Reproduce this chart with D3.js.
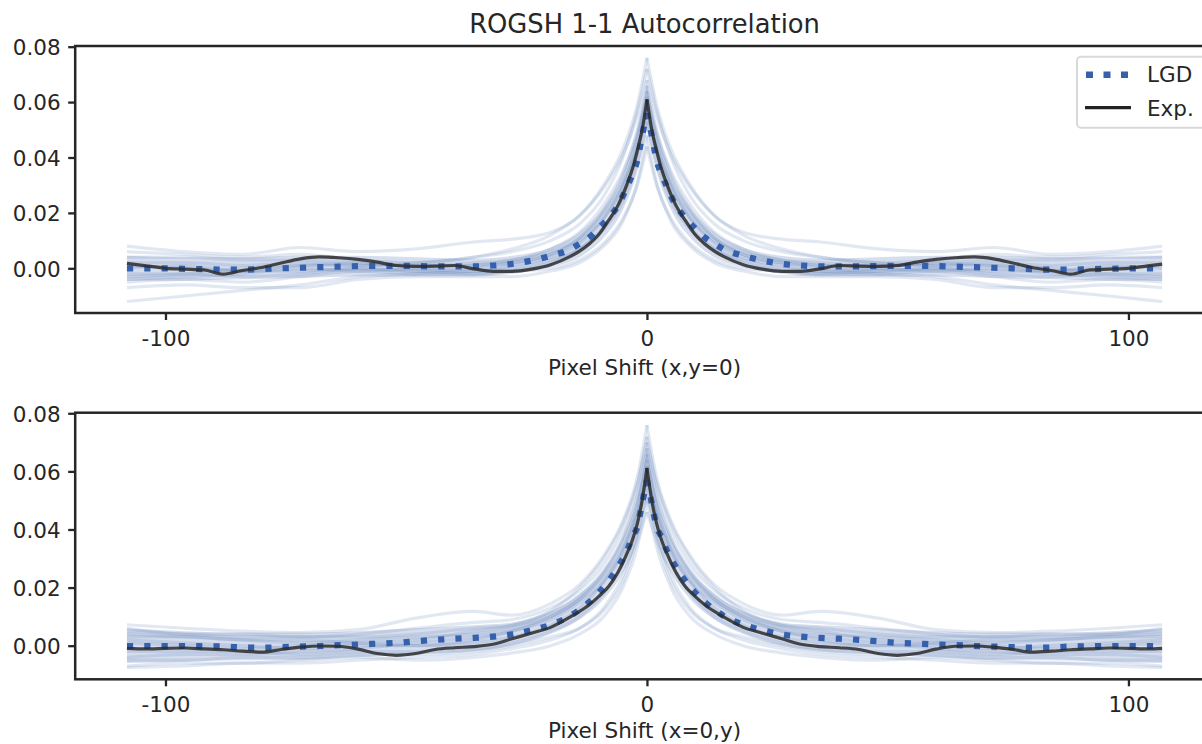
<!DOCTYPE html>
<html>
<head>
<meta charset="utf-8">
<script src="https://cdn.jsdelivr.net/npm/d3@7"></script>
<style>
  html, body { margin: 0; padding: 0; background: #fff; }
  svg { display: block; font-family: "DejaVu Sans", sans-serif; }
</style>
</head>
<body>
<svg id="chart" width="1202" height="744"></svg>
<script>
// ---- shift grids (pixels) ----
const shiftFine = [-108,-104,-100,-96,-92,-88,-84,-80,-76,-72,-68,-64,-60,-56,-52,-48,-44,-40,-36,-32,-28,-24,-20,
  -16,-14,-12,-10,-8,-6,-4,-3,-2,-1,0,1,2,3,4,6,8,10,12,14,16,
  20,24,28,32,36,40,44,48,52,56,60,64,68,72,76,80,84,88,92,96,100,104,107];
const shiftCoarse = [-108,-96,-84,-72,-60,-48,-36,-28,-20,-14,-9,-5,-2,0,2,5,9,14,20,28,36,48,60,72,84,96,107];

const yTicks = [0, 0.02, 0.04, 0.06, 0.08];
const xTicks = [-100, 0, 100];
const seriesNames = ["LGD", "Exp."];

// ---- shift along x (y = 0) ----
const lgdX = [0.0000,0.0000,0.0000,-0.0002,-0.0003,-0.0005,-0.0005,-0.0003,0.0000,0.0002,0.0004,0.0006,0.0008,0.0009,0.0009,0.0008,0.0007,0.0007,0.0007,0.0010,0.0016,0.0028,0.0045,
  0.0068,0.0089,0.0111,0.0144,0.0182,0.0227,0.030,0.034,0.039,0.048,0.056,0.048,0.039,0.034,0.030,0.0227,0.0182,0.0144,0.0111,0.0089,0.0068,
  0.0045,0.0028,0.0016,0.0010,0.0007,0.0007,0.0007,0.0008,0.0009,0.0009,0.0008,0.0006,0.0004,0.0002,0.0000,-0.0003,-0.0005,-0.0005,-0.0003,-0.0002,0.0000,0.0000,0.0000];
const expX = [0.0018,0.0009,0.0000,-0.0003,-0.0006,-0.0021,-0.0008,0.0003,0.0019,0.0034,0.0041,0.0038,0.0032,0.0022,0.0010,0.0007,0.0008,0.0010,-0.0002,-0.0011,-0.0011,-0.0003,0.0013,
  0.0042,0.0062,0.0088,0.0122,0.0172,0.0228,0.031,0.036,0.0425,0.050,0.0610,0.050,0.0425,0.036,0.031,0.0228,0.0172,0.0122,0.0088,0.0062,0.0042,
  0.0013,-0.0003,-0.0011,-0.0011,-0.0002,0.0010,0.0008,0.0007,0.0010,0.0022,0.0032,0.0038,0.0041,0.0034,0.0019,0.0003,-0.0008,-0.0021,-0.0006,-0.0003,0.0000,0.0009,0.0015];
const bandXHi = [0.0045,0.004,0.004,0.0045,0.0045,0.004,0.0035,0.0045,0.0075,0.013,0.022,0.034,0.050,0.066,0.050,0.034,0.022,0.013,0.0075,0.0045,0.0035,0.004,0.0045,0.0045,0.004,0.004,0.0045];
const bandXLo = [-0.0045,-0.0045,-0.004,-0.0035,-0.003,-0.003,-0.003,-0.002,0.0005,0.004,0.011,0.021,0.035,0.050,0.035,0.021,0.011,0.004,0.0005,-0.002,-0.003,-0.003,-0.003,-0.0035,-0.004,-0.0045,-0.0045];
const samplesX = [
  [0.008,0.006,0.005,0.0075,0.006,0.007,0.0095,0.0105,0.013,0.019,0.030,0.043,0.059,0.076,0.059,0.043,0.030,0.019,0.013,0.0105,0.0095,0.007,0.006,0.0075,0.005,0.006,0.008],
  [0.006,0.005,0.004,0.005,0.003,0.002,0.004,0.006,0.010,0.016,0.026,0.040,0.057,0.072,0.057,0.040,0.026,0.016,0.010,0.006,0.004,0.002,0.003,0.005,0.004,0.005,0.006],
  [0.004,0.004,0.003,0.003,0.002,0.001,0.001,0.002,0.005,0.011,0.021,0.034,0.050,0.066,0.050,0.034,0.021,0.011,0.005,0.002,0.001,0.001,0.002,0.003,0.003,0.004,0.004],
  [-0.003,-0.002,0.000,0.001,0.002,0.000,-0.001,0.001,0.004,0.009,0.018,0.030,0.046,0.062,0.046,0.030,0.018,0.009,0.004,0.001,-0.001,0.000,0.002,0.001,0.000,-0.002,-0.003],
  [-0.005,-0.004,-0.005,-0.003,-0.001,-0.002,-0.002,-0.001,0.002,0.007,0.015,0.026,0.042,0.058,0.042,0.026,0.015,0.007,0.002,-0.001,-0.002,-0.002,-0.001,-0.003,-0.005,-0.004,-0.005],
  [-0.012,-0.010,-0.008,-0.006,-0.003,-0.002,-0.001,0.000,0.003,0.007,0.014,0.024,0.038,0.053,0.038,0.024,0.014,0.007,0.003,0.000,-0.001,-0.002,-0.003,-0.006,-0.008,-0.010,-0.012],
  [-0.007,-0.006,-0.007,-0.007,-0.004,-0.003,-0.003,-0.003,-0.001,0.002,0.008,0.017,0.031,0.048,0.031,0.017,0.008,0.002,-0.001,-0.003,-0.003,-0.003,-0.004,-0.007,-0.007,-0.006,-0.007],
  [-0.002,-0.002,-0.003,-0.002,0.000,-0.001,-0.002,-0.001,0.000,0.003,0.009,0.018,0.030,0.044,0.030,0.018,0.009,0.003,0.000,-0.001,-0.002,-0.001,0.000,-0.002,-0.003,-0.002,-0.002],
  [0.002,0.002,0.001,0.002,0.001,0.002,0.004,0.007,0.012,0.019,0.029,0.041,0.055,0.068,0.055,0.041,0.029,0.019,0.012,0.007,0.004,0.002,0.001,0.002,0.001,0.002,0.002],
  [-0.004,-0.003,-0.002,0.000,-0.001,0.000,0.001,0.003,0.006,0.011,0.020,0.031,0.045,0.060,0.045,0.031,0.020,0.011,0.006,0.003,0.001,0.000,-0.001,0.000,-0.002,-0.003,-0.004],
  [0.001,0.000,-0.001,-0.001,0.000,-0.001,0.000,0.002,0.005,0.010,0.018,0.029,0.043,0.056,0.043,0.029,0.018,0.010,0.005,0.002,0.000,-0.001,0.000,-0.001,-0.001,0.000,0.001],
  [0.000,0.001,-0.001,0.001,0.001,0.001,0.002,0.003,0.007,0.013,0.023,0.035,0.049,0.064,0.049,0.035,0.023,0.013,0.007,0.003,0.002,0.001,0.001,0.001,-0.001,0.001,0.000]
];

// ---- shift along y (x = 0) ----
const lgdY = [-0.0001,-0.0001,-0.0001,-0.0001,-0.0002,-0.0003,-0.0006,-0.0007,-0.0005,-0.0003,-0.0001,0.0002,0.0004,0.0007,0.0010,0.0015,0.0020,0.0024,0.0027,0.0031,0.0039,0.0053,0.0072,
  0.0102,0.0124,0.0150,0.0183,0.0222,0.0271,0.0333,0.0375,0.041,0.049,0.057,0.049,0.041,0.0375,0.0333,0.0271,0.0222,0.0183,0.0150,0.0124,0.0102,
  0.0072,0.0053,0.0039,0.0031,0.0027,0.0024,0.0020,0.0015,0.0010,0.0007,0.0004,0.0002,-0.0001,-0.0003,-0.0005,-0.0007,-0.0006,-0.0003,-0.0002,-0.0001,-0.0001,-0.0001,-0.0001];
const expY = [-0.0009,-0.0011,-0.0009,-0.0008,-0.0011,-0.0014,-0.0019,-0.0022,-0.0013,-0.0005,-0.0001,-0.0002,-0.0012,-0.0027,-0.0033,-0.0027,-0.0013,-0.0007,-0.0003,0.0005,0.0024,0.0043,0.0063,
  0.0098,0.0118,0.0141,0.0170,0.0203,0.0253,0.0323,0.0365,0.042,0.050,0.0612,0.050,0.042,0.0365,0.0323,0.0253,0.0203,0.0170,0.0141,0.0118,0.0098,
  0.0063,0.0043,0.0024,0.0005,-0.0003,-0.0007,-0.0013,-0.0027,-0.0033,-0.0027,-0.0012,-0.0002,-0.0001,-0.0005,-0.0013,-0.0022,-0.0019,-0.0014,-0.0011,-0.0008,-0.0009,-0.0011,-0.0009];
const bandYHi = [0.006,0.005,0.0045,0.0045,0.005,0.006,0.007,0.008,0.012,0.018,0.026,0.037,0.051,0.068,0.051,0.037,0.026,0.018,0.012,0.008,0.007,0.006,0.005,0.0045,0.0045,0.005,0.006];
const bandYLo = [-0.006,-0.0055,-0.005,-0.005,-0.004,-0.003,-0.002,0.000,0.004,0.009,0.016,0.025,0.036,0.050,0.036,0.025,0.016,0.009,0.004,0.000,-0.002,-0.003,-0.004,-0.005,-0.005,-0.0055,-0.006];
const samplesY = [
  [0.0072,0.006,0.005,0.0045,0.0055,0.0095,0.0118,0.0105,0.0145,0.021,0.031,0.043,0.058,0.076,0.058,0.043,0.031,0.021,0.0145,0.0105,0.0118,0.0095,0.0055,0.0045,0.005,0.006,0.0072],
  [0.005,0.004,0.003,0.003,0.004,0.006,0.008,0.009,0.013,0.019,0.028,0.040,0.055,0.072,0.055,0.040,0.028,0.019,0.013,0.009,0.008,0.006,0.004,0.003,0.003,0.004,0.005],
  [0.004,0.003,0.002,0.001,0.002,0.003,0.004,0.006,0.010,0.016,0.025,0.037,0.052,0.068,0.052,0.037,0.025,0.016,0.010,0.006,0.004,0.003,0.002,0.001,0.002,0.003,0.004],
  [0.002,0.001,0.000,-0.001,0.000,0.000,0.001,0.003,0.007,0.013,0.022,0.033,0.048,0.064,0.048,0.033,0.022,0.013,0.007,0.003,0.001,0.000,0.000,-0.001,0.000,0.001,0.002],
  [-0.002,-0.002,-0.002,-0.003,-0.002,-0.002,-0.001,0.001,0.005,0.010,0.018,0.029,0.044,0.060,0.044,0.029,0.018,0.010,0.005,0.001,-0.001,-0.002,-0.002,-0.003,-0.002,-0.002,-0.002],
  [-0.0075,-0.007,-0.006,-0.006,-0.005,-0.004,-0.003,-0.001,0.002,0.006,0.013,0.024,0.039,0.055,0.039,0.024,0.013,0.006,0.002,-0.001,-0.003,-0.004,-0.005,-0.006,-0.006,-0.007,-0.0075],
  [-0.007,-0.006,-0.006,-0.005,-0.004,-0.005,-0.004,-0.0025,0.000,0.004,0.010,0.020,0.034,0.050,0.034,0.020,0.010,0.004,0.000,-0.0025,-0.004,-0.005,-0.004,-0.005,-0.006,-0.006,-0.007],
  [-0.005,-0.005,-0.004,-0.004,-0.003,-0.003,-0.002,0.000,0.003,0.006,0.012,0.022,0.036,0.046,0.036,0.022,0.012,0.006,0.003,0.000,-0.002,-0.003,-0.003,-0.004,-0.004,-0.005,-0.005],
  [0.001,0.000,-0.001,0.000,0.001,0.002,0.005,0.007,0.012,0.020,0.030,0.042,0.056,0.070,0.056,0.042,0.030,0.020,0.012,0.007,0.005,0.002,0.001,0.000,-0.001,0.000,0.001],
  [-0.004,-0.003,-0.003,-0.002,-0.001,0.001,0.003,0.005,0.010,0.016,0.024,0.034,0.047,0.062,0.047,0.034,0.024,0.016,0.010,0.005,0.003,0.001,-0.001,-0.002,-0.003,-0.003,-0.004],
  [0.003,0.003,0.002,0.002,0.001,0.000,0.002,0.005,0.009,0.015,0.022,0.032,0.045,0.058,0.045,0.032,0.022,0.015,0.009,0.005,0.002,0.000,0.001,0.002,0.002,0.003,0.003],
  [0.006,0.004,0.004,0.003,0.003,0.004,0.006,0.007,0.011,0.017,0.026,0.037,0.051,0.066,0.051,0.037,0.026,0.017,0.011,0.007,0.006,0.004,0.003,0.003,0.004,0.004,0.006]
];

// ---- layout & style ----
const TEXT = "#262626";
const SAMPLE_COLOR = "#4c72b0";
const LGD_COLOR = "#3560ad";
const EXP_COLOR = "#2a2a2a";
const FONT = 21.5;

const svg = d3.select("#chart");
const x = d3.scaleLinear().domain([-118.75, 117.75]).range([75.2, 1213.9]);

const panels = [
  { top: 46, bottom: 313, yDomain: [-0.01614, 0.08025], xLabel: "Pixel Shift (x,y=0)", labelGap: 62,
    lgd: lgdX, exp: expX, hi: bandXHi, lo: bandXLo, samples: samplesX, legend: true },
  { top: 412.7, bottom: 679.3, yDomain: [-0.01157, 0.0802], xLabel: "Pixel Shift (x=0,y)", labelGap: 59,
    lgd: lgdY, exp: expY, hi: bandYHi, lo: bandYLo, samples: samplesY, legend: false }
];

// Each profile is drawn as two halves meeting at zero shift, so the peak stays a cusp.
function halves(pts) {
  return [pts.filter(d => d.s <= 0), pts.filter(d => d.s >= 0)];
}

panels.forEach(p => {
  const y = d3.scaleLinear().domain(p.yDomain).range([p.bottom, p.top]);
  const g = svg.append("g");

  const line = d3.line().x(d => x(d.s)).y(d => y(d.v)).curve(d3.curveMonotoneX);
  const area = d3.area().x(d => x(d.s)).y0(d => y(d.lo)).y1(d => y(d.hi)).curve(d3.curveMonotoneX);

  // dense core of the realisations
  const band = shiftCoarse.map((s, i) => ({ s, lo: p.lo[i], hi: p.hi[i] }));
  halves(band).forEach(h => {
    g.append("path").attr("d", area(h))
      .attr("fill", SAMPLE_COLOR).attr("fill-opacity", 0.23).attr("stroke", "none");
  });

  // individual realisations
  p.samples.forEach(arr => {
    const pts = shiftCoarse.map((s, i) => ({ s, v: arr[i] }));
    halves(pts).forEach(h => {
      g.append("path").attr("d", line(h))
        .attr("fill", "none").attr("stroke", SAMPLE_COLOR)
        .attr("stroke-opacity", 0.16).attr("stroke-width", 3.2);
    });
  });

  // LGD mean (dotted)
  const lgdPts = shiftFine.map((s, i) => ({ s, v: p.lgd[i] }));
  halves(lgdPts).forEach(h => {
    g.append("path").attr("d", line(h))
      .attr("fill", "none").attr("stroke", LGD_COLOR)
      .attr("stroke-width", 6.2).attr("stroke-dasharray", "6.2 11.1");
  });

  // experimental autocorrelation
  const expPts = shiftFine.map((s, i) => ({ s, v: p.exp[i] }));
  halves(expPts).forEach(h => {
    g.append("path").attr("d", line(h))
      .attr("fill", "none").attr("stroke", EXP_COLOR)
      .attr("stroke-opacity", 0.85).attr("stroke-width", 3.2)
      .attr("stroke-linejoin", "round");
  });

  // frame
  svg.append("rect")
    .attr("x", x.range()[0]).attr("y", p.top)
    .attr("width", x.range()[1] - x.range()[0]).attr("height", p.bottom - p.top)
    .attr("fill", "none").attr("stroke", TEXT).attr("stroke-width", 2.5);

  // y axis
  const ya = svg.append("g").attr("transform", `translate(${x.range()[0]},0)`)
    .call(d3.axisLeft(y).tickValues(yTicks).tickFormat(d3.format(".2f")).tickSize(7).tickPadding(7.5));
  ya.select(".domain").remove();
  ya.selectAll("line").attr("stroke", TEXT).attr("stroke-width", 2.3);
  ya.selectAll("text").attr("fill", TEXT).attr("font-size", FONT)
    .attr("font-family", "DejaVu Sans").attr("dy", "0.36em");

  // x axis
  const xa = svg.append("g").attr("transform", `translate(0,${p.bottom})`)
    .call(d3.axisBottom(x).tickValues(xTicks).tickFormat(d => String(d)).tickSize(7).tickPadding(7.5));
  xa.select(".domain").remove();
  xa.selectAll("line").attr("stroke", TEXT).attr("stroke-width", 2.3);
  xa.selectAll("text").attr("fill", TEXT).attr("font-size", FONT)
    .attr("font-family", "DejaVu Sans").attr("y", 33).attr("dy", null);

  svg.append("text")
    .attr("x", (x.range()[0] + x.range()[1]) / 2).attr("y", p.bottom + p.labelGap)
    .attr("text-anchor", "middle").attr("font-size", FONT).attr("fill", TEXT)
    .text(p.xLabel);

  if (p.legend) {
    const lg = svg.append("g");
    lg.append("rect").attr("x", 1077).attr("y", 56.7).attr("width", 130).attr("height", 71)
      .attr("rx", 4).attr("fill", "#fff").attr("fill-opacity", 0.85)
      .attr("stroke", "#d9d9d9").attr("stroke-width", 2);
    lg.append("line").attr("x1", 1086).attr("x2", 1131).attr("y1", 74.7).attr("y2", 74.7)
      .attr("stroke", LGD_COLOR).attr("stroke-width", 6.5).attr("stroke-dasharray", "7 10.5");
    lg.append("line").attr("x1", 1085).attr("x2", 1131).attr("y1", 107.6).attr("y2", 107.6)
      .attr("stroke", "#222").attr("stroke-width", 3.2);
    lg.selectAll("text.lab").data(seriesNames).join("text")
      .attr("class", "lab")
      .attr("x", 1147).attr("y", (d, i) => 82.4 + i * 33.3)
      .attr("font-size", FONT).attr("fill", TEXT).text(d => d);
  }
});

svg.append("text")
  .attr("x", (x.range()[0] + x.range()[1]) / 2).attr("y", 33)
  .attr("text-anchor", "middle").attr("font-size", 25.8).attr("fill", TEXT)
  .text("ROGSH 1-1 Autocorrelation");
</script>
</body>
</html>
